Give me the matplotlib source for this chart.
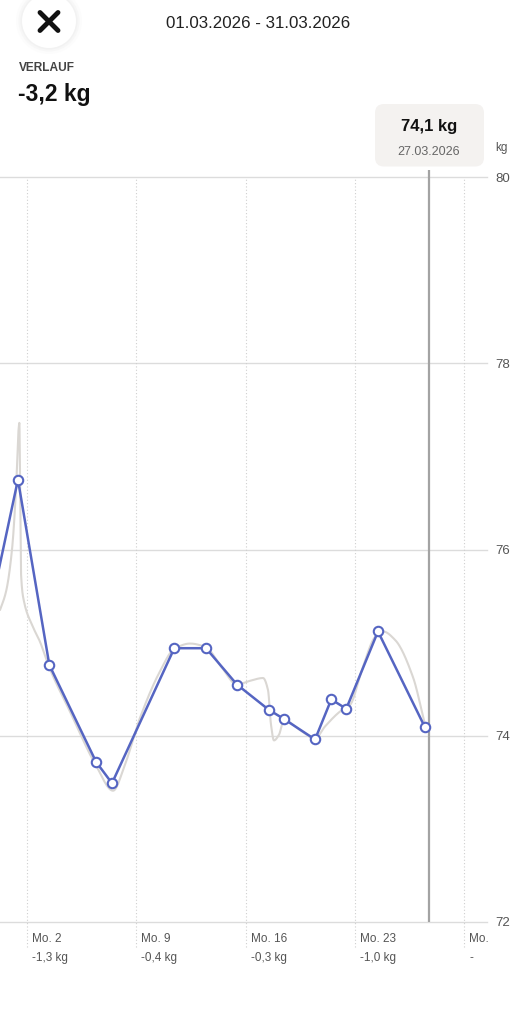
import matplotlib
matplotlib.use('Agg')
import matplotlib.pyplot as plt
import numpy as np
from matplotlib.patches import FancyBboxPatch, Circle
from matplotlib.transforms import Bbox, TransformedBbox

plt.rcParams['font.family'] = ['Liberation Sans', 'DejaVu Sans']

# --- data (x = day of March 2026, fractional = time of day) ---
weight_days = [-0.55, 1.42, 3.43, 6.42, 7.44, 11.43, 13.46, 15.44, 17.47,
               18.45, 20.44, 21.48, 22.44, 24.47, 27.48]
weight_kg = [75.2, 76.75, 74.76, 73.72, 73.49, 74.94, 74.94, 74.55, 74.28,
             74.18, 73.96, 74.39, 74.29, 75.12, 74.09]

# grey trend curve
trend_days = [-0.69, 0.27, 0.66, 1.04, 1.30, 1.46, 1.51, 1.55, 1.62, 1.81,
              2.32, 2.83, 3.41, 4.75, 6.42, 7.51, 8.27, 9.23, 10.51, 11.41,
              12.44, 13.46, 14.48, 15.44, 16.28, 17.11, 17.43, 17.62, 17.81,
              18.13, 18.45, 19.48, 20.44, 21.08, 22.04, 22.68, 23.45, 24.28,
              24.79, 25.56, 26.71, 27.48]
trend_kg = [74.92, 75.35, 75.55, 76.00, 76.66, 77.29, 77.36, 76.86, 75.73,
            75.44, 75.19, 75.01, 74.74, 74.26, 73.68, 73.41, 73.69, 74.19,
            74.69, 74.93, 74.99, 74.95, 74.73, 74.55, 74.59, 74.62, 74.49,
            74.12, 73.95, 74.01, 74.17, 74.06, 73.97, 74.10, 74.26, 74.33,
            74.71, 75.06, 75.12, 75.03, 74.63, 74.12]

week_days = [2, 9, 16, 23, 30]
week_labels = ['Mo. 2', 'Mo. 9', 'Mo. 16', 'Mo. 23', 'Mo. 30']
week_change = ['-1,3 kg', '-0,4 kg', '-0,3 kg', '-1,0 kg', '-']

y_ticks = [72, 74, 76, 78, 80]
selected_day = 27.74
selected_value = '74,1 kg'
selected_date = '27.03.2026'
period = '01.03.2026 - 31.03.2026'
total_change = '-3,2 kg'

BLUE = '#5565c2'
GREY_LINE = '#dad7d3'


def pchip(xs, ys, n=25):
    xs = np.asarray(xs, float)
    ys = np.asarray(ys, float)
    h = np.diff(xs)
    d = np.diff(ys) / h
    m = np.zeros_like(xs)
    m[0], m[-1] = d[0], d[-1]
    for k in range(1, len(xs) - 1):
        if d[k - 1] * d[k] > 0:
            w1 = 2 * h[k] + h[k - 1]
            w2 = h[k] + 2 * h[k - 1]
            m[k] = (w1 + w2) / (w1 / d[k - 1] + w2 / d[k])
    out_x, out_y = [], []
    for k in range(len(xs) - 1):
        t = np.linspace(0, 1, n, endpoint=False)
        h00 = 2 * t**3 - 3 * t**2 + 1
        h10 = t**3 - 2 * t**2 + t
        h01 = -2 * t**3 + 3 * t**2
        h11 = t**3 - t**2
        out_x.append(xs[k] + t * h[k])
        out_y.append(h00 * ys[k] + h10 * h[k] * m[k] + h01 * ys[k + 1] + h11 * h[k] * m[k + 1])
    out_x.append([xs[-1]])
    out_y.append([ys[-1]])
    return np.concatenate(out_x), np.concatenate(out_y)


W, H = 518, 1024
fig = plt.figure(figsize=(W / 100, H / 100), dpi=100)
fig.patch.set_facecolor('white')

# chart axes: left=0px, right=487px, top=177px (80), bottom=922px (72)
ax = fig.add_axes([0, (H - 922) / H, 487 / W, (922 - 177) / H])
ax.set_xlim(0.271, 31.45)
ax.set_ylim(72, 80)
for s in ax.spines.values():
    s.set_visible(False)

for v in y_ticks:
    ax.axhline(v, color='#dcdcdc', lw=1.0, zorder=1, clip_on=False)

ax.vlines(week_days, 71.73, 80, colors='#cfcfcf', linestyles=(0, (1, 2)),
          lw=0.8, clip_on=False, zorder=1)

ax.vlines([selected_day], 72, 80.075, colors='#a3a3a3', lw=1.6,
          clip_on=False, zorder=2)

tx, ty = pchip(trend_days, trend_kg)
ax.plot(tx, ty, color=GREY_LINE, lw=1.5, zorder=3, solid_capstyle='round')
ax.plot(weight_days, weight_kg, color=BLUE, lw=1.8, marker='o', ms=6.8,
        mfc='white', mec=BLUE, mew=1.5, zorder=4, solid_joinstyle='round')

ax.yaxis.tick_right()
ax.set_yticks(y_ticks)
ax.set_yticklabels([str(v) for v in y_ticks])
ax.tick_params(axis='y', length=0, pad=6, labelsize=9.5, labelcolor='#555555')
ax.set_xticks([])

clip = TransformedBbox(Bbox([[0, 0], [488 / W, 1]]), fig.transFigure)
for d, lab, ch in zip(week_days, week_labels, week_change):
    for txt, off in ((lab, -17), (ch, -36)):
        a = ax.annotate(txt, xy=(d, 72), xycoords='data', xytext=(5, off),
                        textcoords='offset pixels', ha='left', va='center',
                        fontsize=8.5, color='#555555', annotation_clip=False)
        a.set_clip_box(clip)
        a.set_clip_on(True)

# overlay in pixel coordinates for the header and tooltip
ov = fig.add_axes([0, 0, 1, 1], zorder=5)
ov.set_xlim(0, W)
ov.set_ylim(H, 0)
ov.axis('off')
ov.patch.set_alpha(0)

for r, c in ((33, '#fcfcfc'), (30.5, '#f7f7f7'), (28.5, '#f2f2f2'), (27, 'white')):
    ov.add_patch(Circle((49, 21), r, color=c, lw=0))
ov.plot([40, 58], [12.5, 30.5], color='#111111', lw=3.5, solid_capstyle='round')
ov.plot([40, 58], [30.5, 12.5], color='#111111', lw=3.5, solid_capstyle='round')

ov.text(258, 28, period, ha='center', va='baseline', fontsize=12.2, color='#222222')
ov.text(19, 71, 'VERLAUF', ha='left', va='baseline', fontsize=8.6,
        fontweight='bold', color='#444444')
ov.text(18, 100.5, total_change, ha='left', va='baseline', fontsize=16.5,
        fontweight='bold', color='#111111')

ov.add_patch(FancyBboxPatch((375, 104), 109, 62.5,
                            boxstyle='round,pad=0,rounding_size=9',
                            fc='#f4f2f0', ec='none'))
ov.text(429, 130.5, selected_value, ha='center', va='baseline', fontsize=12,
        fontweight='bold', color='#111111')
ov.text(429, 155.3, selected_date, ha='center', va='baseline', fontsize=9,
        color='#666666')
ov.text(495, 151.5, 'kg', ha='left', va='baseline', fontsize=8.5, color='#555555')

fig.savefig('out.png', dpi=100)
